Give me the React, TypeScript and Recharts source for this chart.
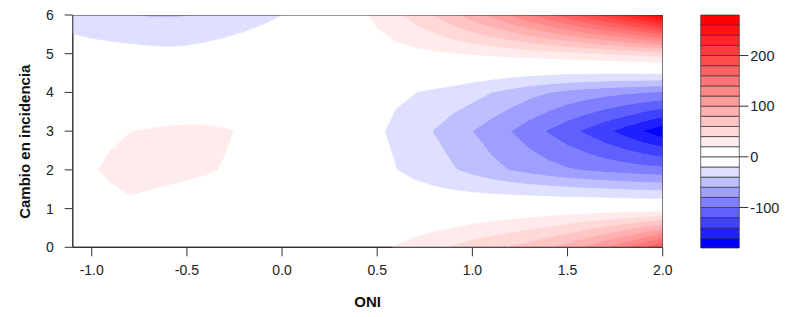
import React from 'react';
import { ScatterChart, Scatter, XAxis, YAxis, ReferenceArea } from 'recharts';

// ONI grid columns
const oni = [-1.1, -1.0, -0.9, -0.8, -0.7, -0.6, -0.5, -0.4, -0.3, -0.2, -0.1, 0.0, 0.1, 0.2, 0.3, 0.4, 0.5, 0.6, 0.7, 0.8, 0.9, 1.0, 1.1, 1.2, 1.3, 1.4, 1.5, 1.6, 1.7, 1.8, 1.9, 2.0];
// lag rows
const lags = [0, 1, 2, 3, 4, 5, 6];
// estimated change in incidence at each (lag, ONI) grid node
const lag0 = [4, 5, 6, 7, 7, 7, 6.5, 6, 5.5, 5, 4.5, 4, 4, 4.5, 5.5, 8, 14, 21.5, 29, 36, 42, 49, 55, 61, 68, 77, 88, 102, 118, 136, 157, 180];
const lag1 = [8, 12, 16, 17.8, 15.8, 13.7, 11.5, 10, 9, 8, 7, 5, 4, 3, 1, -1, -3, -5, -5, -4, -2, 0, 2, 4, 5, 6, 6.5, 7, 7, 7, 6.5, 6];
const lag2 = [15, 19, 22, 24, 24.5, 24, 23, 21.5, 19, 15, 10, 5, 0, -4, -8, -12, -16, -19.5, -25, -31, -38.5, -46, -54, -61, -67, -73, -78, -82, -86, -89, -92, -94];
const lag3 = [12, 15, 18, 19.8, 21, 22.5, 23, 23, 21.5, 18, 13, 8, 3, -2, -7, -12, -17, -24, -31, -41, -51, -60, -70, -80, -91, -102, -113, -124, -136, -148, -161, -174];
const lag4 = [-2, 0, 1, 2, 3, 4, 4, 3.5, 2.5, 1, -1, -3, -5, -7, -9.5, -12, -14.5, -17, -19.5, -23, -27.5, -33, -40, -47, -54, -60, -66, -70, -74, -77, -80, -83];
const lag5 = [-7, -10, -11.5, -12.6, -14, -15, -14, -11.5, -9, -6.7, -4, -2, 0, 2, 4, 7, 10, 12.5, 14.5, 16.5, 19, 21, 23.5, 26, 28.5, 31, 34, 37, 40, 43, 46.5, 50];
const lag6 = [-32, -35, -38, -40, -41.5, -42, -41, -39, -35, -30, -25, -20, -12, -4, 4, 14, 25, 36, 48, 61, 75, 90, 105, 121, 138, 155, 172, 190, 208, 227, 248, 272];

const levels = [-180, -160, -140, -120, -100, -80, -60, -40, -20, 0, 20, 40, 60, 80, 100, 120, 140, 160, 180, 200, 220, 240, 260, 280];
const xTicks = [-1.0, -0.5, 0.0, 0.5, 1.0, 1.5, 2.0];
const yTicks = [0, 1, 2, 3, 4, 5, 6];
const barTicks = [-100, 0, 100, 200];

const grid = [lag0, lag1, lag2, lag3, lag4, lag5, lag6];

const xMin = oni[0];
const xMax = oni[oni.length - 1];
const yMin = lags[0];
const yMax = lags[lags.length - 1];
const boxCorners = [
  { x: xMin, y: yMin },
  { x: xMax, y: yMin },
  { x: xMax, y: yMax },
  { x: xMin, y: yMax },
];

function bandColor(lo: number): string {
  if (lo < 0) {
    const k = (lo - levels[0]) / 20;
    const c = Math.round((255 * k) / 8);
    return `rgb(${c},${c},255)`;
  }
  const j = lo / 20;
  const c = Math.round(255 * (1 - j / 13));
  return `rgb(255,${c},${c})`;
}

type V = { x: number; y: number; z: number };

function clip(poly: V[], t: number, keepAbove: boolean): V[] {
  const out: V[] = [];
  const inside = (v: V) => (keepAbove ? v.z >= t : v.z <= t);
  for (let i = 0; i < poly.length; i++) {
    const a = poly[i];
    const b = poly[(i + 1) % poly.length];
    const ia = inside(a);
    const ib = inside(b);
    if (ia) out.push(a);
    if (ia !== ib) {
      const f = (t - a.z) / (b.z - a.z);
      out.push({ x: a.x + f * (b.x - a.x), y: a.y + f * (b.y - a.y), z: t });
    }
  }
  return out;
}

const bands = levels
  .slice(0, -1)
  .map((lo, b) => {
    const hi = levels[b + 1];
    const points: { x: number; y: number }[] = [];
    const counts: number[] = [];
    for (let r = 0; r < lags.length - 1; r++) {
      for (let c = 0; c < oni.length - 1; c++) {
        let poly: V[] = [
          { x: oni[c], y: lags[r], z: grid[r][c] },
          { x: oni[c + 1], y: lags[r], z: grid[r][c + 1] },
          { x: oni[c + 1], y: lags[r + 1], z: grid[r + 1][c + 1] },
          { x: oni[c], y: lags[r + 1], z: grid[r + 1][c] },
        ];
        poly = clip(poly, lo, true);
        if (poly.length < 3) continue;
        poly = clip(poly, hi, false);
        if (poly.length < 3) continue;
        counts.push(poly.length);
        poly.forEach((v) => points.push({ x: v.x, y: v.y }));
      }
    }
    return { lo, hi, color: bandColor(lo), points, counts };
  })
  .filter((b) => b.points.length > 0 && b.color !== 'rgb(255,255,255)');

function polyPath(pts: { x: number; y: number }[], counts: number[]): string {
  let d = '';
  let i = 0;
  for (const n of counts) {
    for (let k = 0; k < n; k++) {
      const p = pts[i + k];
      if (!p || p.x == null || p.y == null) continue;
      d += (k === 0 ? 'M' : 'L') + p.x.toFixed(2) + ',' + p.y.toFixed(2);
    }
    d += 'Z';
    i += n;
  }
  return d;
}

const noShape = () => <g />;

const FONT = '"Liberation Sans", Arial, Helvetica, sans-serif';
const AXIS = '#333';

export default function App() {
  return (
    <div style={{ position: 'absolute', left: 0, top: 0, width: 786, height: 317, background: '#fff', fontFamily: FONT, overflow: 'hidden' }}>
      <div style={{ position: 'absolute', left: 0, top: 0 }}>
        <ScatterChart width={700} height={317} margin={{ top: 15, right: 37.3, bottom: 29.7, left: 12.7 }}>
          <XAxis
            type="number"
            dataKey="x"
            domain={[xMin, xMax]}
            ticks={xTicks}
            tickFormatter={(v: number) => v.toFixed(1)}
            height={40}
            tickSize={9}
            tickMargin={9}
            axisLine={{ stroke: AXIS, strokeWidth: 1.2 }}
            tickLine={{ stroke: AXIS }}
            tick={{ fill: '#222', fontSize: 14 }}
            allowDataOverflow
          />
          <YAxis
            type="number"
            dataKey="y"
            domain={[yMin, yMax]}
            ticks={yTicks}
            width={60}
            tickSize={8}
            tickMargin={11}
            axisLine={{ stroke: AXIS, strokeWidth: 1.2 }}
            tickLine={{ stroke: AXIS }}
            tick={{ fill: '#222', fontSize: 14 }}
            allowDataOverflow
          />
          {bands.map((b) => (
            <Scatter
              key={b.lo}
              data={b.points}
              isAnimationActive={false}
              shape={noShape}
              lineType="joint"
              line={(p: any) => (
                <path d={polyPath(p.points || [], b.counts)} fill={b.color} stroke={b.color} strokeWidth={0.7} strokeLinejoin="round" />
              )}
            />
          ))}
          <Scatter
            data={boxCorners}
            isAnimationActive={false}
            shape={noShape}
            lineType="joint"
            line={(p: any) => (
              <path d={polyPath(p.points || [], [boxCorners.length])} fill="none" stroke={AXIS} strokeWidth={1.2} />
            )}
          />
        </ScatterChart>
      </div>
      <div style={{ position: 'absolute', left: 700, top: 0 }}>
        <ScatterChart width={86} height={317} margin={{ top: 15, right: 0, bottom: 69, left: 0.7 }}>
          <XAxis type="number" dataKey="x" domain={[0, 1]} hide />
          <YAxis
            type="number"
            dataKey="y"
            orientation="right"
            domain={[levels[0], levels[levels.length - 1]]}
            ticks={barTicks}
            width={46.7}
            tickSize={9}
            tickMargin={2}
            axisLine={false}
            tickLine={{ stroke: AXIS }}
            tick={{ fill: '#222', fontSize: 14.5 }}
          />
          {levels.slice(0, -1).map((lo, i) => (
            <ReferenceArea key={lo} x1={0} x2={1} y1={lo} y2={levels[i + 1]} fill={bandColor(lo)} fillOpacity={1} stroke="#333" strokeWidth={0.7} ifOverflow="visible" />
          ))}
          <Scatter data={[{ x: 0, y: levels[0] }, { x: 1, y: levels[levels.length - 1] }]} shape={noShape} isAnimationActive={false} />
        </ScatterChart>
      </div>
      <svg width={786} height={317} style={{ position: 'absolute', left: 0, top: 0, pointerEvents: 'none' }}>
        <text x={367.7} y={306.5} textAnchor="middle" fontWeight="bold" fontSize={15} fill="#111" fontFamily={FONT}>
          ONI
        </text>
        <text transform="translate(30, 141.7) rotate(-90)" textAnchor="middle" fontWeight="bold" fontSize={15} fill="#111" fontFamily={FONT}>
          Cambio en incidencia
        </text>
      </svg>
    </div>
  );
}
